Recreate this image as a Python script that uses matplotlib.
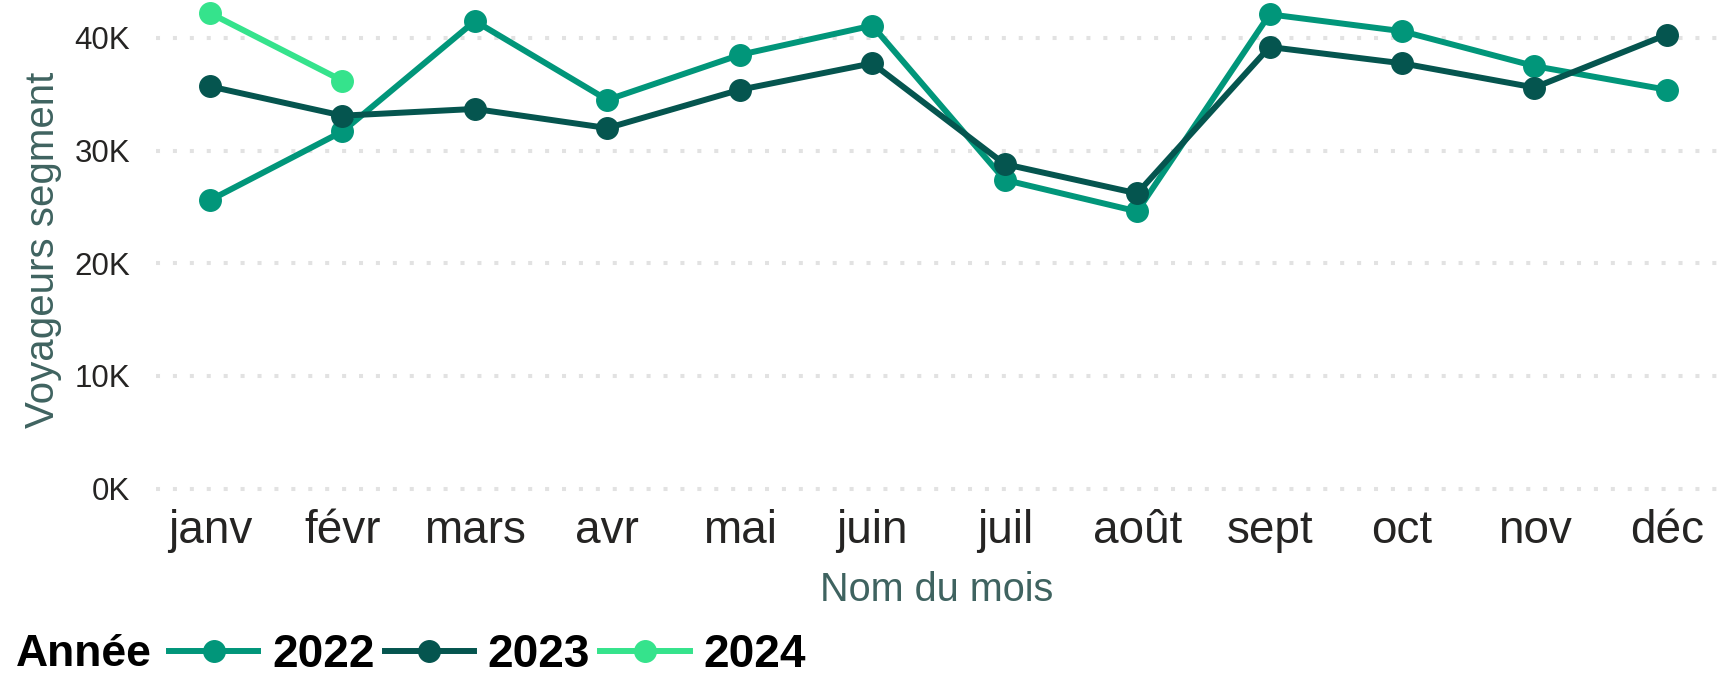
"""Voyageurs segment par mois, comparaison 2022 / 2023 / 2024."""
import matplotlib; matplotlib.use('Agg')  # noqa: E702
import matplotlib.pyplot as plt
from matplotlib.ticker import FuncFormatter
import numpy as np

plt.rcParams['font.family'] = ['Liberation Sans', 'DejaVu Sans']

MONTHS = ['janv', 'févr', 'mars', 'avr', 'mai', 'juin',
          'juil', 'août', 'sept', 'oct', 'nov', 'déc']
YEARS = ['2022', '2023', '2024']
V2022 = [25600, 31700, 41500, 34500, 38500, 41100,
         27400, 24600, 42100, 40600, 37500, 35400]
V2023 = [35700, 33100, 33700, 32000, 35400, 37750,
         28800, 26200, 39200, 37750, 35600, 40300]
V2024 = [42200, 36200]
COLORS = ['#01967a', '#05554f', '#35e38c']

W, H = 1717, 678
fig = plt.figure(figsize=(W / 100, H / 100), dpi=100)
ax = fig.add_axes([156 / W, 1 - 500 / H, 1 - 156 / W, 500 / H])

x = np.arange(len(MONTHS))
handles = []
for vals, col in zip([V2022, V2023, V2024], COLORS):
    ln, = ax.plot(x[:len(vals)], vals, color=col, lw=4.3, marker='o',
                  markersize=15.5, clip_on=False, zorder=3)
    handles.append(ln)

ax.set_xlim(-0.408, 11.378)
ax.set_ylim(-1020, 43370)
ax.set_yticks([0, 10000, 20000, 30000, 40000])
ax.yaxis.set_major_formatter(FuncFormatter(lambda v, _: f'{int(v / 1000)}K'))
ax.set_xticks(x)
ax.set_xticklabels(MONTHS)
ax.tick_params(axis='x', length=0, pad=6.5, labelsize=33, labelcolor='#252423')
ax.tick_params(axis='y', length=0, pad=18.5, labelsize=22.5, labelcolor='#252423')
ax.yaxis.grid(True, color='#e2e2e2', lw=2.9, linestyle=(0, (1, 3.2)))
ax.set_axisbelow(True)
for s in ax.spines.values():
    s.set_visible(False)

ax.set_ylabel('Voyageurs segment', fontsize=29, color='#3f6360', labelpad=9)
ax.set_xlabel('Nom du mois', fontsize=28.5, color='#3f6360', labelpad=13)

fig.text(16 / W, 1 - 655 / H, 'Année', fontsize=32, fontweight='bold',
         color='#000000', ha='left', va='center')
fig.legend(handles, YEARS, loc='center left',
           bbox_to_anchor=(169 / W, 1 - 655 / H), ncol=3, frameon=False,
           prop={'weight': 'bold', 'size': 33}, handlelength=1.95,
           handletextpad=0.3, columnspacing=0.22, borderpad=0,
           borderaxespad=0)

fig.savefig('out.png', dpi=100)
plt.close(fig)
